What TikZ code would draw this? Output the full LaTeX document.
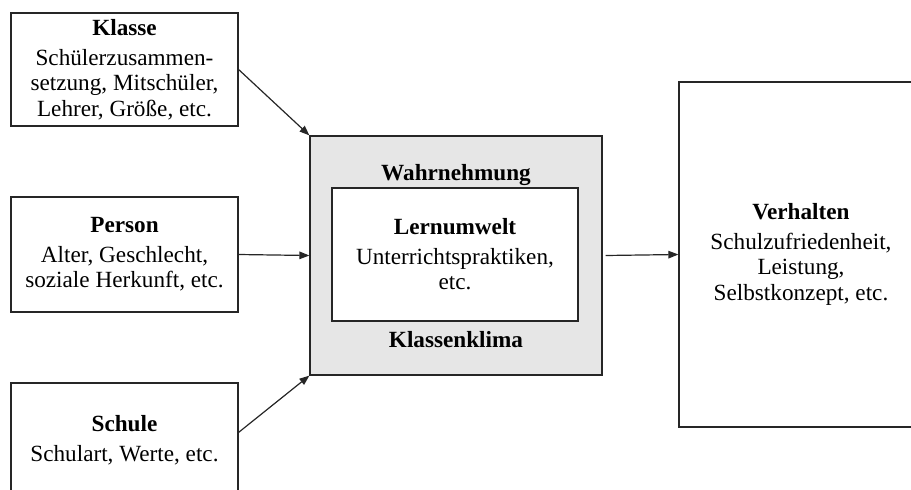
\documentclass[tikz,border=0pt]{standalone}
\usepackage{fontspec}
\setmainfont{Liberation Serif}
\usetikzlibrary{arrows.meta}
\definecolor{panelgray}{HTML}{E6E6E6}
\definecolor{linegray}{HTML}{262626}
\newcommand\diagfont{\fontsize{23.2}{25.5}\selectfont}
\begin{document}
\begin{tikzpicture}[x=1pt,y=-1pt,
  box/.style={draw=linegray, line width=1.2pt, rectangle, inner sep=0pt,
              align=center, font=\diagfont},
  caption/.style={anchor=base, inner sep=0pt, font=\diagfont\bfseries},
  arr/.style={draw=linegray, line width=1.2pt,
              -{Triangle[length=10pt,width=7.5pt]}}]
\useasboundingbox (0,0) rectangle (911,490);
\clip (0,0) rectangle (911,490);

% influencing factors
\node[box, minimum width=227pt, minimum height=113pt] (klasse) at (124.5,69.5)
  {\textbf{Klasse}\\[4pt]Schülerzusammen-\\setzung, Mitschüler,\\Lehrer, Größe, etc.};
\node[box, minimum width=227pt, minimum height=115pt] (person) at (124.5,254.5)
  {\textbf{Person}\\[4pt]Alter, Geschlecht,\\soziale Herkunft, etc.};
\node[box, minimum width=227pt, minimum height=114pt] (schule) at (124.5,440)
  {\textbf{Schule}\\[4pt]Schulart, Werte, etc.};

% perceived class climate
\node[box, fill=panelgray, minimum width=292pt, minimum height=239pt] (klima) at (456,255.5) {};
\node[box, fill=white, minimum width=246pt, minimum height=133pt] (lern) at (455,254.5)
  {\textbf{Lernumwelt}\\[4pt]Unterrichtspraktiken,\\etc.};
\node[caption] (wahr) at (456,180) {Wahrnehmung};
\node[caption] (kk) at (456,347) {Klassenklima};

% outcome
\node[box, minimum width=244pt, minimum height=345pt] (verhalten) at (801,254.5)
  {\textbf{Verhalten}\\[4pt]Schulzufriedenheit,\\Leistung,\\Selbstkonzept, etc.};

% connectors
\draw[arr] (klasse.east) -- (klima.north west);
\draw[arr] (person.east) -- (klima.west);
\draw[arr] ([yshift=-50pt]schule.north east) -- (klima.south west);
\draw[arr] ([xshift=3pt]klima.east) -- (verhalten.west);
\end{tikzpicture}
\end{document}
